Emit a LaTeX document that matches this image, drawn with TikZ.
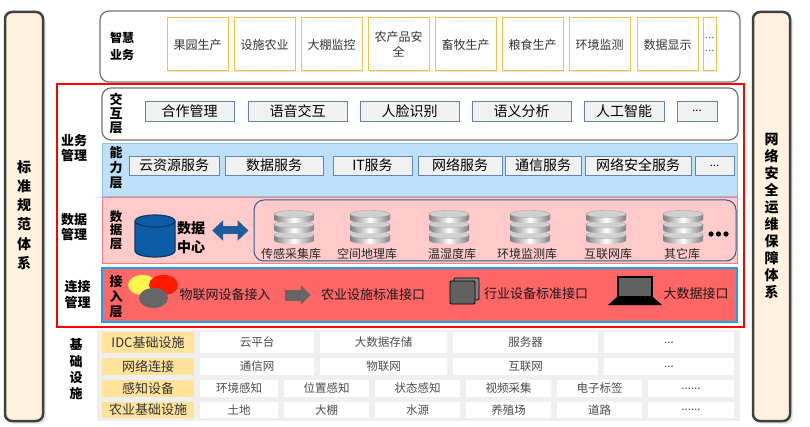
\documentclass[tikz,border=0pt]{standalone}
\usepackage{fontspec}
\setmainfont{Noto Sans CJK SC}
\usetikzlibrary{arrows.meta,shadows}
\definecolor{cream}{HTML}{FFF2DE}
\definecolor{gold}{HTML}{F2C14B}
\definecolor{steel}{HTML}{5F86B2}
\definecolor{boxgray}{HTML}{F1F1F1}
\definecolor{nlblue}{HTML}{BEE0F9}
\definecolor{nlline}{HTML}{8FC2EA}
\definecolor{sjpink}{HTML}{FFCACA}
\definecolor{sjline}{HTML}{FF7F7F}
\definecolor{navy}{HTML}{2F5D8C}
\definecolor{jrred}{HTML}{FF6666}
\definecolor{jrline}{HTML}{1AA3E8}
\definecolor{dcblue}{HTML}{0D5CA6}
\definecolor{dcline}{HTML}{083A6B}
\definecolor{arrblue}{HTML}{1E5C9C}
\definecolor{jcbg}{HTML}{EFEFEF}
\definecolor{jcyellow}{HTML}{FFE39B}
\def\dbdisk(#1,#2){%
  \shade[left color=black!50, right color=black!50, middle color=white] (#1-20,#2) -- (#1-20,#2+5.5) arc[start angle=180, end angle=0, x radius=20, y radius=3.5] -- (#1+20,#2) -- cycle;
  \filldraw[fill=black!18, draw=black!35, line width=0.4pt] (#1,#2) ellipse[x radius=20, y radius=3.5];}
\def\dbstack(#1,#2){\dbdisk(#1,#2+21)\dbdisk(#1,#2+10.5)\dbdisk(#1,#2)}
\tikzset{
  sidebar/.style={draw=black!75, line width=2.5pt, fill=cream, rounded corners=7pt, drop shadow={opacity=0.25}},
  vlabel/.style={align=center, inner sep=0pt, font=\fontsize{13}{15}\selectfont\bfseries},
  laypanel/.style={draw=black!55, line width=1.2pt, fill=white, rounded corners=9pt},
  bizbox/.style={draw=gold, line width=1pt, fill=white, minimum width=61pt, minimum height=53pt, inner sep=1pt, align=center, text=black!80, font=\fontsize{12}{15}\selectfont, drop shadow={opacity=0.2, shadow xshift=1pt, shadow yshift=-1pt}},
  hxbox/.style={draw=steel, line width=0.8pt, fill=boxgray, minimum height=20pt, inner sep=0pt, font=\fontsize{14}{16}\selectfont},
  nlband/.style={draw=nlline, line width=0.8pt, fill=nlblue, minimum width=635pt, minimum height=53pt},
  sjband/.style={draw=sjline, line width=0.8pt, fill=sjpink, minimum width=635pt, minimum height=66pt},
  sjpanel/.style={draw=navy, line width=1pt, fill=sjpink, rounded corners=10pt, minimum width=482pt, minimum height=61pt},
  dblabel/.style={inner sep=0pt, text=black!85, font=\fontsize{12}{14}\selectfont},
  jrband/.style={draw=jrline, line width=2pt, fill=jrred, minimum width=635pt, minimum height=54pt},
  jrtext/.style={inner sep=0pt, text=black!90, font=\fontsize{13}{15}\selectfont},
  jclab/.style={fill=jcyellow, minimum width=92pt, inner sep=0pt, text=black!80, font=\fontsize{13}{15}\selectfont},
  jccell/.style={fill=white, inner sep=0pt, text=black!70, font=\fontsize{11.5}{13}\selectfont},
  redframe/.style={draw=red, line width=1.5pt},
  dblarr/.style={draw=arrblue, line width=8pt, {Triangle[width=20pt,length=11pt]}-{Triangle[width=20pt,length=11pt]}},
  grayarr/.style={draw=black!60, line width=11pt, -{Triangle[width=19pt,length=10pt]}}
}
\begin{document}
\begin{tikzpicture}[x=1pt,y=-1pt]
%%%%% START %%%%%
\useasboundingbox (0,0) rectangle (810,427);

% side bars
\node[sidebar, minimum width=38pt, minimum height=409pt] (lbar) at (24,216.5) {};
\node[vlabel, font=\fontsize{14}{19.2}\selectfont\bfseries] (lbtxt) at (24,215) {标\\准\\规\\范\\体\\系};
\node[sidebar, minimum width=37pt, minimum height=409pt] (rbar) at (771.5,216.5) {};
\node[vlabel, font=\fontsize{14}{17}\selectfont\bfseries] (rbtxt) at (771.5,216.5) {网\\络\\安\\全\\运\\维\\保\\障\\体\\系};

% smart business
\node[laypanel, minimum width=640pt, minimum height=71pt] (biz) at (420,46.5) {};
\node[vlabel, font=\fontsize{12}{17}\selectfont\bfseries] (biztxt) at (122,46) {智慧\\业务};
\node[bizbox] (biz1) at (197.5,44.5) {果园生产};
\node[bizbox] (biz2) at (264.5,44.5) {设施农业};
\node[bizbox] (biz3) at (331.5,44.5) {大棚监控};
\node[bizbox] (biz4) at (398.5,44.5) {农产品安\\全};
\node[bizbox] (biz5) at (465.5,44.5) {畜牧生产};
\node[bizbox] (biz6) at (532.5,44.5) {粮食生产};
\node[bizbox] (biz7) at (599.5,44.5) {环境监测};
\node[bizbox] (biz8) at (667.5,44.5) {数据显示};
\node[bizbox, minimum width=13pt, font=\fontsize{9}{13}\selectfont] (biz9) at (709.5,44.5) {…\\…};

\draw[redframe] (57,84) rectangle (744,327);

% interaction layer
\node[laypanel, minimum width=636pt, minimum height=52pt] (hx) at (420,114) {};
\node[vlabel, font=\fontsize{13}{14}\selectfont\bfseries] (hxtxt) at (116,114) {交\\互\\层};
\node[hxbox, minimum width=89pt] (hx1) at (189.5,111) {合作管理};
\node[hxbox, minimum width=99pt] (hx2) at (297.5,111) {语音交互};
\node[hxbox, minimum width=99pt] (hx3) at (409.5,111) {人脸识别};
\node[hxbox, minimum width=99pt] (hx4) at (521.5,111) {语义分析};
\node[hxbox, minimum width=80pt] (hx5) at (624,111) {人工智能};
\node[hxbox, minimum width=40pt, font=\fontsize{11}{13}\selectfont] (hx6) at (697,111) {...};
\node[vlabel] (ywgl) at (74,148) {业务\\管理};

% capability layer
\node[nlband] (nl) at (419.5,169.5) {};
\node[vlabel] (nltxt) at (116,168) {能\\力\\层};
\node[hxbox, minimum width=90pt, minimum height=19pt] (nl1) at (174,165.5) {云资源服务};
\node[hxbox, minimum width=98pt, minimum height=19pt] (nl2) at (274,165.5) {数据服务};
\node[hxbox, minimum width=79pt, minimum height=19pt] (nl3) at (372.5,165.5) {IT服务};
\node[hxbox, minimum width=84pt, minimum height=19pt] (nl4) at (460,165.5) {网络服务};
\node[hxbox, minimum width=76pt, minimum height=19pt] (nl5) at (543,165.5) {通信服务};
\node[hxbox, minimum width=106pt, minimum height=19pt] (nl6) at (638,165.5) {网络安全服务};
\node[hxbox, minimum width=39pt, minimum height=19pt, font=\fontsize{11}{13}\selectfont] (nl7) at (714.5,165.5) {...};

% data layer
\node[sjband] (sj) at (419.5,230) {};
\node[vlabel, font=\fontsize{12.5}{13.5}\selectfont\bfseries] (sjtxt) at (116,230) {数\\据\\层};
\node[vlabel] (sjgl) at (74,227) {数据\\管理};
\fill[dcblue] (135,221) -- (135,251) arc[start angle=180, end angle=0, x radius=20, y radius=6] -- (175,221) arc[start angle=0, end angle=-180, x radius=20, y radius=6] -- cycle;
\draw[dcline, line width=1.2pt] (135,221) -- (135,251) arc[start angle=180, end angle=0, x radius=20, y radius=6] -- (175,221);
\draw[dcline, line width=1.2pt] (155,221) ellipse[x radius=20, y radius=6];
\node[vlabel, font=\fontsize{14}{19}\selectfont\bfseries] (dctext) at (191,237.5) {数据\\中心};
\node[sjpanel] (dbbox) at (495,230.5) {};
\draw[dblarr, shorten <=7pt, shorten >=5pt] (dctext.east |- dbbox.west) -- (dbbox.west);
\dbstack(294,214)
\dbstack(370,214)
\dbstack(449,214)
\dbstack(530,214)
\dbstack(606,214)
\dbstack(683,214)
\node[dblabel] (db1) at (291,253.5) {传感采集库};
\node[dblabel] (db2) at (367,253.5) {空间地理库};
\node[dblabel] (db3) at (452,253.5) {温湿度库};
\node[dblabel] (db4) at (527,253.5) {环境监测库};
\node[dblabel] (db5) at (608,253.5) {互联网库};
\node[dblabel] (db6) at (682,253.5) {其它库};
\fill[black] (711,234) circle (2.6);
\fill[black] (718.5,234) circle (2.6);
\fill[black] (726,234) circle (2.6);

% access layer
\node[jrband] (jr) at (419.5,295) {};
\node[vlabel, font=\fontsize{13}{15}\selectfont\bfseries] (jrtxt) at (116,297) {接\\入\\层};
\node[vlabel, font=\fontsize{13}{16}\selectfont\bfseries] (ljgl) at (77.5,295) {连接\\管理};
\fill[yellow!70!white] (142.5,285) ellipse[x radius=14.5, y radius=10];
\fill[red!80!orange] (163.5,285) ellipse[x radius=14.5, y radius=10];
\fill[black!60] (153.5,298) ellipse[x radius=14.5, y radius=10];
\node[jrtext] (iot) at (225,295) {物联网设备接入};
\node[jrtext] (agri) at (373,295) {农业设施标准接口};
\draw[grayarr, shorten <=14pt, shorten >=10pt] (iot) -- (agri);
\filldraw[fill=black!50, draw=black, line width=0.8pt, rounded corners=1pt] (454,278) rectangle (479,300);
\filldraw[fill=black!62, draw=black, line width=0.8pt, rounded corners=1pt] (450,281) rectangle (475,304);
\node[jrtext] (ind) at (536,294) {行业设备标准接口};
\filldraw[fill=black!62, draw=black, line width=1.5pt] (618,277) rectangle (652,297);
\fill[black] (617,297) -- (653,297) -- (662,305) -- (608,305) -- cycle;
\node[jrtext] (bigd) at (696,294) {大数据接口};

% infrastructure
\fill[jcbg] (97,330) rectangle (740,421);
\node[vlabel, font=\fontsize{13}{16.3}\selectfont\bfseries] (jcss) at (76,369.5) {基\\础\\设\\施};
\node[jclab, minimum height=21pt] (r1) at (148,342.5) {IDC基础设施};
\node[jccell, minimum width=114pt, minimum height=21pt] (r1a) at (257,342.5) {云平台};
\node[jccell, minimum width=127pt, minimum height=21pt] (r1b) at (383.5,342.5) {大数据存储};
\node[jccell, minimum width=145pt, minimum height=21pt] (r1c) at (525.5,342.5) {服务器};
\node[jccell, minimum width=130pt, minimum height=21pt] (r1d) at (669,342.5) {...};
\node[jclab, minimum height=17pt] (r2) at (148,366.5) {网络连接};
\node[jccell, minimum width=114pt, minimum height=17pt] (r2a) at (257,366.5) {通信网};
\node[jccell, minimum width=127pt, minimum height=17pt] (r2b) at (383.5,366.5) {物联网};
\node[jccell, minimum width=145pt, minimum height=17pt] (r2c) at (525.5,366.5) {互联网};
\node[jccell, minimum width=130pt, minimum height=17pt] (r2d) at (669,366.5) {...};
\node[jclab, minimum height=17pt] (r3) at (148,388.5) {感知设备};
\node[jccell, minimum width=78pt, minimum height=17pt] (r3a) at (239,388.5) {环境感知};
\node[jccell, minimum width=85pt, minimum height=17pt] (r3b) at (326.5,388.5) {位置感知};
\node[jccell, minimum width=85pt, minimum height=17pt] (r3c) at (417.5,388.5) {状态感知};
\node[jccell, minimum width=85pt, minimum height=17pt] (r3d) at (508.5,388.5) {视频采集};
\node[jccell, minimum width=85pt, minimum height=17pt] (r3e) at (599.5,388.5) {电子标签};
\node[jccell, minimum width=86pt, minimum height=17pt] (r3f) at (691,388.5) {......};
\node[jclab, minimum height=16pt] (r4) at (148,410) {农业基础设施};
\node[jccell, minimum width=78pt, minimum height=16pt] (r4a) at (239,410) {土地};
\node[jccell, minimum width=85pt, minimum height=16pt] (r4b) at (326.5,410) {大棚};
\node[jccell, minimum width=85pt, minimum height=16pt] (r4c) at (417.5,410) {水源};
\node[jccell, minimum width=85pt, minimum height=16pt] (r4d) at (508.5,410) {养殖场};
\node[jccell, minimum width=85pt, minimum height=16pt] (r4e) at (599.5,410) {道路};
\node[jccell, minimum width=86pt, minimum height=16pt] (r4f) at (691,410) {......};

%%%%% END %%%%%
\end{tikzpicture}
\end{document}
